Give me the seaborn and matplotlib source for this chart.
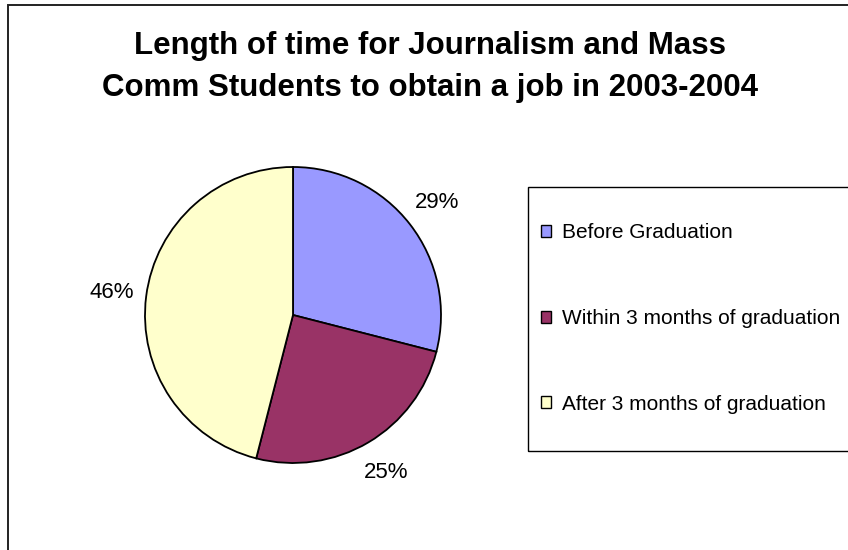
import matplotlib
matplotlib.use("Agg")
import matplotlib.pyplot as plt
import seaborn as sns
from matplotlib.patches import Rectangle, Patch

categories = ["Before Graduation", "Within 3 months of graduation", "After 3 months of graduation"]
values = [29, 25, 46]
colors = ["#9999FF", "#993366", "#FFFFCC"]
title = "Length of time for Journalism and Mass\nComm Students to obtain a job in 2003-2004"

sns.set_theme(style="white")
plt.rcParams["font.family"] = ["Liberation Sans", "DejaVu Sans"]
plt.rcParams["text.color"] = "black"

W, H = 848, 550
fig = plt.figure(figsize=(W / 100, H / 100), dpi=100)
fig.patch.set_facecolor("white")

# outer chart frame
fig.patches.append(Rectangle((8 / W, -0.1), 1.2, 1 - 5 / H + 0.1, transform=fig.transFigure,
                             fill=False, edgecolor="#222222", linewidth=1.4))

cx, cy, r = 293, 315, 148
ax = fig.add_axes([(cx - r) / W, (H - cy - r) / H, 2 * r / W, 2 * r / H])
wedges, texts = ax.pie(values, colors=colors, startangle=90, counterclock=False,
                       labels=[f"{v}%" for v in values], labeldistance=1.235,
                       wedgeprops=dict(edgecolor="black", linewidth=1.3),
                       textprops=dict(fontsize=16, color="black", ha="center", va="center"))
for t in texts:
    t.set_ha("center")
ax.set_xlim(-1, 1)
ax.set_ylim(-1, 1)
ax.set_aspect("equal")
ax.axis("off")

fig.text(430 / W, 1 - 67 / H, title, ha="center", va="center", fontsize=22.5,
         fontweight="bold", linespacing=1.48, color="black")

# legend frame
fig.patches.append(Rectangle((528 / W, 1 - 451 / H), 400 / W, 264 / H, transform=fig.transFigure,
                             fill=False, edgecolor="black", linewidth=1.0))
handles = [Patch(facecolor=c, edgecolor="black", linewidth=1.0) for c in colors]
leg = fig.legend(handles, categories, loc="center left", bbox_to_anchor=(541 / W, 1 - 318.5 / H),
                 frameon=False, fontsize=15, labelspacing=3.2, handlelength=0.5,
                 handleheight=0.5, handletextpad=0.53, borderpad=0, borderaxespad=0)
for t in leg.get_texts():
    t.set_color("black")

fig.savefig("out.png", dpi=100, facecolor="white")
